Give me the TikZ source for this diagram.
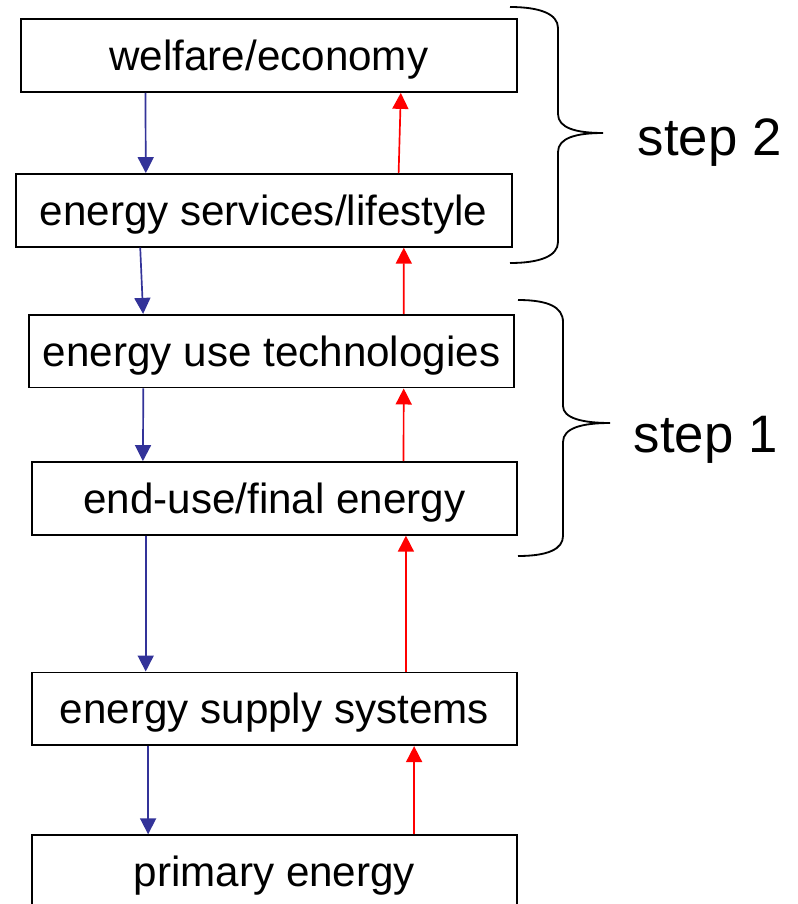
\documentclass[tikz,border=0pt]{standalone}
\usepackage{fontspec}
\setmainfont{Liberation Sans}
\usetikzlibrary{positioning}
\usetikzlibrary{arrows.meta}
\definecolor{downblue}{RGB}{51,51,153}
\tikzset{>={Triangle[length=4mm,width=4mm]}}
\tikzset{
	% boxes
	levelbox/.style={draw=black,line width=1.4pt,rectangle,inner sep=0pt,
		minimum height=1.815cm,text height=0.95cm,text depth=0.2cm,
		font=\fontsize{30}{36}\selectfont},
	% arrow styles
	downarrow/.style={->,draw=downblue,fill=downblue,line width=1.2pt},
	uparrow/.style={->,draw=red,fill=red,line width=1.2pt},
	bracestyle/.style={draw=black,line width=1.3pt},
	steplabel/.style={anchor=base west,inner sep=0pt,font=\fontsize{37.5}{45}\selectfont},
}

\begin{document}
\begin{tikzpicture}
\useasboundingbox (0,0) rectangle (19.95,-22.6);
% the levels
\node[levelbox,minimum width=12.39cm] (welfare) at (6.72,-1.39) {welfare/economy};
\node[levelbox,minimum width=12.40cm] (services) at (6.59,-5.26) {energy services/lifestyle};
\node[levelbox,minimum width=12.125cm] (usetech) at (6.79,-8.78) {energy use technologies};
\node[levelbox,minimum width=12.125cm] (enduse) at (6.86,-12.46) {end-use/final energy};
\node[levelbox,minimum width=12.125cm] (supply) at (6.86,-17.72) {energy supply systems};
\node[levelbox,minimum width=12.125cm] (primary) at (6.86,-21.79) {primary energy};
% blue arrows going down
\foreach \a/\b/\xa/\xb in {welfare/services/3.135/3.28, services/usetech/3.14/2.875,
  usetech/enduse/2.88/2.8, enduse/supply/2.87/2.87, supply/primary/2.93/2.93}
  \draw[downarrow] ([xshift=\xa cm]\a.south west) -- ([xshift=\xb cm]\b.north west);
% red arrows going up
\foreach \a/\b/\xa/\xb in {services/welfare/9.6/9.52, usetech/services/9.39/9.73,
  enduse/usetech/9.315/9.39, supply/enduse/9.375/9.375, primary/supply/9.58/9.58}
  \draw[uparrow] ([xshift=\xa cm]\a.north west) -- ([xshift=\xb cm]\b.south west);
% the braces
\draw[bracestyle] (12.75,-0.175) .. controls (13.5,-0.175) and (13.95,-0.35) .. (13.95,-0.7)
  -- (13.95,-2.85) .. controls (13.95,-3.2) and (14.4,-3.325) .. (15.075,-3.325)
  .. controls (14.4,-3.325) and (13.95,-3.45) .. (13.95,-3.8)
  -- (13.95,-6.05) .. controls (13.95,-6.4) and (13.5,-6.575) .. (12.75,-6.575);
\draw[bracestyle] (12.95,-7.5) .. controls (13.7,-7.5) and (14.075,-7.675) .. (14.075,-8.05)
  -- (14.075,-10.15) .. controls (14.075,-10.45) and (14.55,-10.575) .. (15.25,-10.575)
  .. controls (14.55,-10.575) and (14.075,-10.7) .. (14.075,-11.05)
  -- (14.075,-13.4) .. controls (14.075,-13.725) and (13.7,-13.9) .. (12.95,-13.9);
\node[steplabel] (steptwo) at (15.94,-3.875) {step 2};
\node[steplabel] (stepone) at (15.84,-11.3) {step 1};
\end{tikzpicture}
\end{document}
